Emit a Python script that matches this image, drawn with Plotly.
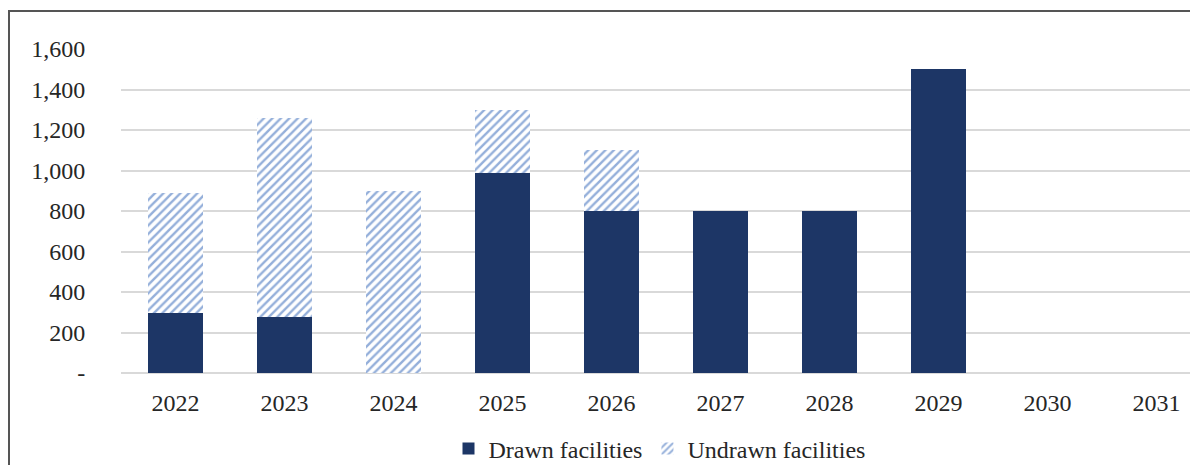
import plotly.graph_objs as go

# debt maturity profile
years = ["2022", "2023", "2024", "2025", "2026", "2027", "2028", "2029", "2030", "2031"]
drawn = [295, 275, 0, 990, 800, 800, 800, 1500, 0, 0]
undrawn = [595, 985, 900, 310, 300, 0, 0, 0, 0, 0]

y_ticks = [0, 200, 400, 600, 800, 1000, 1200, 1400, 1600]
y_labels = ["-", "200", "400", "600", "800", "1,000", "1,200", "1,400", "1,600"]

# page body has an 8px margin, so the figure is shrunk by that amount
W, H = 1190, 457
L, T, PH = 113, 41, 324
PW = W - L

fig = go.Figure()
fig.add_trace(go.Bar(x=years, y=drawn, name="Drawn facilities",
                     marker=dict(color="#1d3666", line=dict(width=0))))
fig.add_trace(go.Bar(x=years, y=undrawn, name="Undrawn facilities",
                     marker=dict(color="white", line=dict(width=0),
                                 pattern=dict(shape="/", fgcolor="#2a5fb5", bgcolor="white",
                                              size=6, solidity=0.4))))

# outer frame, cropped at right and bottom like the original
fig.add_shape(type="rect", xref="paper", yref="paper",
              x0=(1 - L) / PW, x1=1.05, y0=-0.4, y1=(T + PH - 3) / PH,
              line=dict(color="#555555", width=2), fillcolor="rgba(0,0,0,0)", layer="below")

fig.update_layout(
    width=W, height=H,
    margin=dict(l=L, r=0, t=T, b=H - T - PH, autoexpand=False),
    barmode="stack",
    bargap=0.49,
    plot_bgcolor="white",
    paper_bgcolor="white",
    font=dict(family="Liberation Serif", size=24, color="#262626"),
    legend=dict(orientation="h", x=0.5, xanchor="center", y=-76 / PH, yanchor="middle",
                font=dict(size=24), traceorder="normal"),
)
fig.update_xaxes(type="category", range=[-0.5, -0.5 + PW / 109], showgrid=False,
                 showline=False, ticks="outside", tickcolor="white", ticklen=8,
                 tickfont=dict(size=24), automargin=False)
fig.update_yaxes(range=[0, 1600], tickvals=y_ticks, ticktext=y_labels,
                 showgrid=True, gridcolor="#d9d9d9", gridwidth=1.5,
                 zeroline=True, zerolinecolor="#d9d9d9", zerolinewidth=1.5,
                 ticks="outside", tickcolor="white", ticklen=30, tickfont=dict(size=24),
                 automargin=False)

fig.write_html("out.html")
